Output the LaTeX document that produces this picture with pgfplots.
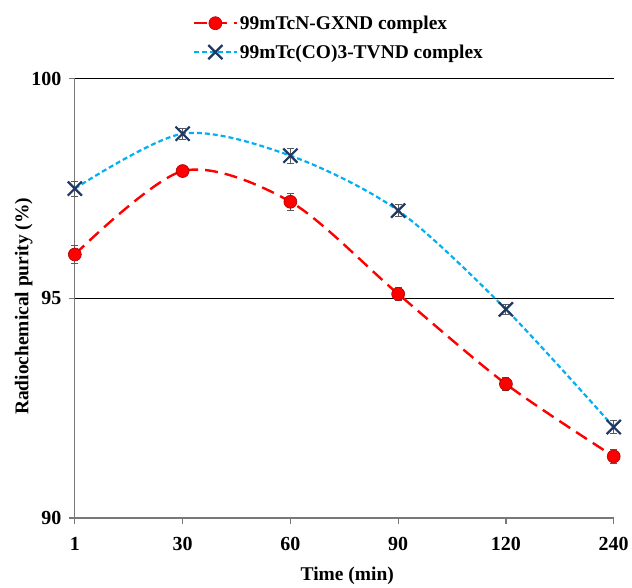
\documentclass[border=0pt]{standalone}
\usepackage{fontspec}
\setmainfont{Liberation Serif}
\usepackage{pgfplots}
\pgfplotsset{compat=1.18}
\definecolor{tcred}{RGB}{255,0,0}
\definecolor{tcdred}{RGB}{170,0,0}
\definecolor{tcblue}{RGB}{0,176,240}
\definecolor{tcnavy}{RGB}{31,56,100}
\definecolor{axgray}{RGB}{120,120,120}
\begin{document}
\begin{tikzpicture}
\begin{axis}[
  name=ax,
  scale only axis, width=540pt, height=440pt,
  xmin=0, xmax=5, ymin=90, ymax=100,
  xtick={0,1,2,3,4,5}, xticklabels={1,30,60,90,120,240},
  ytick={90,95,100},
  axis x line=bottom, axis y line=left,
  axis line style={axgray, line width=1.2pt, -},
  tick style={axgray, line width=1.2pt},
  tick align=outside, major tick length=6pt,
  ymajorgrids, grid style={black, line width=0.9pt},
  font=\fontsize{20}{23}\selectfont\bfseries,
  /pgf/number format/assume math mode=true,
  xticklabel style={yshift=-10pt},
  yticklabel style={xshift=-4pt},
  xlabel={Time (min)}, ylabel={Radiochemical purity (\%)},
  xlabel style={yshift=-9pt, xshift=3pt, font=\fontsize{19.5}{22}\selectfont\bfseries},
  ylabel style={yshift=-8pt, xshift=-8pt, font=\fontsize{19.5}{22}\selectfont\bfseries},
  clip=false,
  legend style={at={(0.49,1)}, anchor=south, yshift=15pt, draw=none, fill=none,
    font=\fontsize{19.5}{22}\selectfont\bfseries, row sep=10pt, cells={anchor=west}},
  legend image code/.code={\draw[mark repeat=2,mark phase=2] plot coordinates {(0cm,0cm)(0.75cm,0cm)(1.5cm,0cm)};},
  error bars/error bar style={gray!70!black, line width=0.9pt, solid},
  error bars/error mark options={rotate=90, mark size=3.5pt, gray!70!black, line width=0.9pt, solid},
]
\addplot[smooth, tcred, line width=2.4pt, dash pattern=on 13pt off 7pt,
  mark=*, mark size=6.5pt, mark options={solid, fill=tcred, draw=tcdred, line width=0.6pt},
  error bars/.cd, y dir=both, y explicit]
  coordinates {(0,96.0) +- (0,0.2) (1,97.9) +- (0,0.13) (2,97.2) +- (0,0.2) (3,95.1) +- (0,0.14) (4,93.05) +- (0,0.14) (5,91.4) +- (0,0.17)};
\addlegendentry{99mTcN-GXND complex}
\addplot[smooth, tcblue, line width=2.2pt, dash pattern=on 5pt off 3pt,
  mark=x, mark size=10pt, mark options={solid, draw=tcnavy, line width=2.2pt},
  error bars/.cd, y dir=both, y explicit]
  coordinates {(0,97.5) +- (0,0.17) (1,98.75) +- (0,0.12) (2,98.25) +- (0,0.17) (3,97.0) +- (0,0.14) (4,94.75) +- (0,0.12) (5,92.07) +- (0,0.14)};
\addlegendentry{99mTc(CO)3-TVND complex}
\end{axis}
\path (ax.south west) ++(-75pt,-63pt) coordinate (a);
\path (ax.north east) ++(17pt,79pt) coordinate (b);
\path (a) rectangle (b);
\end{tikzpicture}
\end{document}
